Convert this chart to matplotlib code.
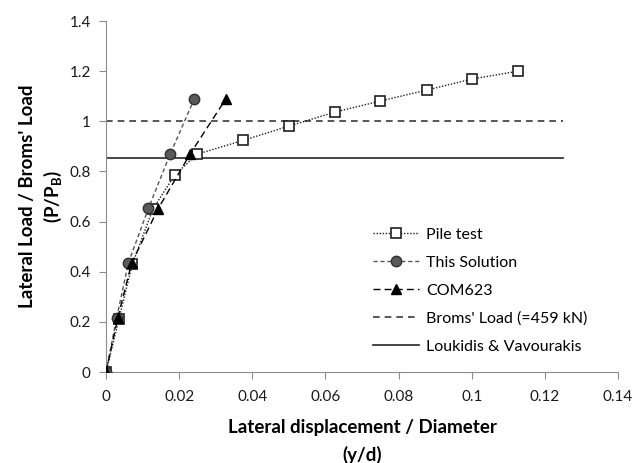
import numpy as np
import matplotlib.pyplot as plt

# data
pile_x = [0.0, 0.0035, 0.0072, 0.0128, 0.0188, 0.0249, 0.0375, 0.050, 0.0626, 0.075, 0.0878, 0.1001, 0.1127]
pile_y = [0.0, 0.21, 0.43, 0.65, 0.786, 0.869, 0.924, 0.981, 1.037, 1.081, 1.125, 1.169, 1.20]

sol_x = [0.0, 0.0029, 0.0061, 0.0116, 0.0175, 0.0241]
sol_y = [0.0, 0.215, 0.435, 0.653, 0.868, 1.088]

com_x = [0.0, 0.0032, 0.0070, 0.0142, 0.0230, 0.0327]
com_y = [0.0, 0.215, 0.435, 0.650, 0.870, 1.088]

broms_x = [0.0, 0.125]
broms_y = [1.0, 1.0]

louk_x = [0.0, 0.125]
louk_y = [0.855, 0.855]

plt.rcParams['font.family'] = ['Lato', 'DejaVu Sans']

fig = plt.figure(figsize=(6.36, 4.63), dpi=100)
ax = fig.add_axes([0.1667, 0.1965, 0.805, 0.758])

ax.plot(pile_x, pile_y, linestyle=(0, (1, 1.2)), color='#202020', linewidth=1,
        marker='s', markersize=6.5, markerfacecolor='white', markeredgecolor='#202020',
        markeredgewidth=1.2, label='Pile test', zorder=3)
ax.plot(sol_x, sol_y, linestyle=(0, (3, 2)), color='#555555', linewidth=1,
        marker='o', markersize=7.5, markerfacecolor='#595959', markeredgecolor='#303030',
        markeredgewidth=1, label='This Solution', zorder=4)
ax.plot(com_x, com_y, linestyle=(0, (5, 3)), color='black', linewidth=1,
        marker='^', markersize=7.5, markerfacecolor='black', markeredgecolor='black',
        label='COM623', zorder=5)
ax.plot(broms_x, broms_y, linestyle=(0, (4, 3)), color='#3a3a3a', linewidth=1.2,
        label="Broms' Load (=459 kN)", zorder=2)
ax.plot(louk_x, louk_y, linestyle='-', color='#262626', linewidth=1.2,
        label='Loukidis & Vavourakis', zorder=2)

ax.set_xlim(0, 0.14)
ax.set_ylim(0, 1.4)
ax.set_xticks(np.arange(0, 0.141, 0.02))
ax.set_xticklabels(['0', '0.02', '0.04', '0.06', '0.08', '0.1', '0.12', '0.14'])
ax.set_yticks(np.arange(0, 1.41, 0.2))
ax.set_yticklabels(['0', '0.2', '0.4', '0.6', '0.8', '1', '1.2', '1.4'])

for s in ['top', 'right']:
    ax.spines[s].set_visible(False)
for s in ['left', 'bottom']:
    ax.spines[s].set_color('#8c8c8c')
ax.tick_params(axis='both', colors='#8c8c8c', labelcolor='#1a1a1a', labelsize=11,
               direction='out', length=5)
ax.tick_params(axis='y', pad=6)
ax.tick_params(axis='x', pad=8)

ax.set_xlabel('Lateral displacement / Diameter\n(y/d)', fontsize=13.5, fontweight='bold',
              labelpad=11, linespacing=1.65)
ax.set_ylabel("Lateral Load / Broms' Load\n(P/P$_\\mathregular{B}$)", fontsize=13.5,
              fontweight='bold', labelpad=4, linespacing=1.3)

ax.legend(loc='upper left', bbox_to_anchor=(0.493, 0.452), frameon=False, fontsize=11.5,
          handlelength=2.9, handletextpad=0.45, labelspacing=0.86)

fig.savefig('out.png', dpi=100)
